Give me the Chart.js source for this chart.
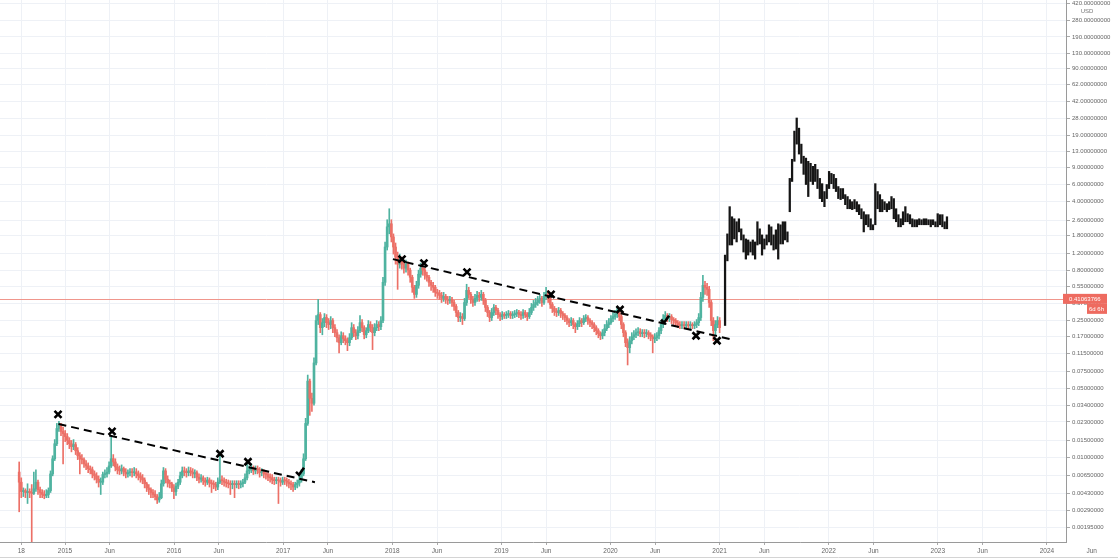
<!DOCTYPE html>
<html>
<head>
<meta charset="utf-8">
<script src="https://cdn.jsdelivr.net/npm/chart.js@4.4.0/dist/chart.umd.min.js"></script>
<style>
  html, body { margin: 0; padding: 0; background: #fff; }
  #wrap { width: 1118px; height: 559px; }
</style>
</head>
<body>
<div id="wrap"><canvas id="chart"></canvas></div>
<script>
'use strict';

// weekly candles, x axis is in decimal years
var firstWeek = 2014.58;
var weekStep = 7 / 365.25;
var firstOpen = 0.0071;

var closes = [
  0.0056, 0.0045, 0.0046, 0.0044, 0.0045, 0.0044, 0.0043, 0.0048, 0.0056, 0.0047,
  0.0044, 0.0042, 0.0041, 0.0042, 0.0046, 0.0068, 0.0097, 0.0138, 0.0197, 0.0212,
  0.0184, 0.0175, 0.0163, 0.0149, 0.0138, 0.0129, 0.0135, 0.0117, 0.0104, 0.0097,
  0.0095, 0.0086, 0.0082, 0.0077, 0.0075, 0.0068, 0.0065, 0.0060, 0.0056, 0.0056,
  0.0067, 0.0068, 0.0071, 0.0082, 0.0097, 0.0090, 0.0080, 0.0075, 0.0073, 0.0077,
  0.0071, 0.0068, 0.0070, 0.0071, 0.0070, 0.0071, 0.0068, 0.0065, 0.0062, 0.0059,
  0.0054, 0.0049, 0.0047, 0.0044, 0.0042, 0.0040, 0.0037, 0.0039, 0.0054, 0.0073,
  0.0060, 0.0055, 0.0054, 0.0049, 0.0045, 0.0051, 0.0056, 0.0065, 0.0073, 0.0071,
  0.0070, 0.0073, 0.0071, 0.0068, 0.0070, 0.0063, 0.0060, 0.0062, 0.0058, 0.0056,
  0.0059, 0.0055, 0.0054, 0.0053, 0.0050, 0.0056, 0.0059, 0.0058, 0.0056, 0.0055,
  0.0054, 0.0053, 0.0054, 0.0053, 0.0054, 0.0053, 0.0054, 0.0056, 0.0062, 0.0073,
  0.0075, 0.0079, 0.0073, 0.0077, 0.0075, 0.0070, 0.0071, 0.0068, 0.0067, 0.0063,
  0.0062, 0.0059, 0.0058, 0.0059, 0.0058, 0.0056, 0.0059, 0.0058, 0.0056, 0.0054,
  0.0053, 0.0050, 0.0053, 0.0055, 0.0059, 0.0068, 0.0097, 0.0222, 0.0598, 0.0400,
  0.0356, 0.0915, 0.247, 0.284, 0.209, 0.235, 0.265, 0.235, 0.225, 0.247,
  0.209, 0.186, 0.165, 0.147, 0.173, 0.161, 0.154, 0.147, 0.165, 0.209,
  0.186, 0.173, 0.195, 0.235, 0.209, 0.177, 0.195, 0.225, 0.209, 0.186,
  0.209, 0.225, 0.214, 0.247, 0.605, 1.383, 2.219, 2.382, 1.752, 1.383,
  1.092, 0.926, 1.017, 0.926, 0.843, 0.926, 0.804, 0.681, 0.538, 0.456,
  0.564, 0.731, 0.843, 0.804, 0.714, 0.681, 0.605, 0.564, 0.538, 0.478,
  0.467, 0.445, 0.415, 0.435, 0.405, 0.396, 0.405, 0.377, 0.344, 0.298,
  0.265, 0.271, 0.259, 0.377, 0.501, 0.456, 0.405, 0.377, 0.415, 0.445,
  0.425, 0.456, 0.396, 0.336, 0.298, 0.265, 0.298, 0.336, 0.313, 0.284,
  0.271, 0.284, 0.278, 0.284, 0.291, 0.278, 0.284, 0.291, 0.298, 0.284,
  0.278, 0.298, 0.284, 0.271, 0.298, 0.336, 0.360, 0.377, 0.396, 0.415,
  0.377, 0.435, 0.478, 0.415, 0.360, 0.328, 0.305, 0.298, 0.313, 0.291,
  0.278, 0.265, 0.247, 0.235, 0.247, 0.225, 0.214, 0.230, 0.247, 0.235,
  0.259, 0.265, 0.247, 0.235, 0.225, 0.209, 0.195, 0.182, 0.173, 0.186,
  0.204, 0.225, 0.235, 0.259, 0.271, 0.284, 0.313, 0.271, 0.225, 0.186,
  0.147, 0.131, 0.154, 0.169, 0.177, 0.186, 0.190, 0.182, 0.186, 0.182,
  0.186, 0.177, 0.169, 0.161, 0.165, 0.173, 0.195, 0.225, 0.259, 0.278,
  0.265, 0.271, 0.253, 0.247, 0.235, 0.225, 0.219, 0.225, 0.219, 0.225,
  0.219, 0.225, 0.219, 0.225, 0.235, 0.265, 0.425, 0.564, 0.538, 0.513,
  0.377, 0.247, 0.195, 0.225, 0.247, 0.209
];

var highs = [
  0.0090, 0.0062, 0.0049, 0.0048, 0.0054, 0.0048, 0.0053, 0.0071, 0.0075, 0.0059,
  0.0050, 0.0047, 0.0046, 0.0047, 0.0049, 0.0073, 0.0104, 0.0152, 0.0222, 0.0233,
  0.0222, 0.0202, 0.0188, 0.0175, 0.0159, 0.0149, 0.0152, 0.0142, 0.0126, 0.0112,
  0.0107, 0.0099, 0.0093, 0.0088, 0.0082, 0.0080, 0.0073, 0.0070, 0.0065, 0.0062,
  0.0071, 0.0075, 0.0079, 0.0090, 0.0163, 0.0107, 0.0097, 0.0086, 0.0082, 0.0084,
  0.0080, 0.0077, 0.0075, 0.0077, 0.0077, 0.0079, 0.0077, 0.0073, 0.0070, 0.0067,
  0.0062, 0.0056, 0.0053, 0.0049, 0.0047, 0.0046, 0.0042, 0.0044, 0.0059, 0.0079,
  0.0077, 0.0065, 0.0059, 0.0056, 0.0053, 0.0055, 0.0060, 0.0071, 0.0080, 0.0080,
  0.0077, 0.0080, 0.0079, 0.0077, 0.0075, 0.0073, 0.0068, 0.0067, 0.0065, 0.0062,
  0.0063, 0.0062, 0.0059, 0.0058, 0.0056, 0.0062, 0.0109, 0.0065, 0.0062, 0.0060,
  0.0059, 0.0058, 0.0058, 0.0058, 0.0058, 0.0058, 0.0058, 0.0060, 0.0068, 0.0088,
  0.0082, 0.0086, 0.0082, 0.0082, 0.0082, 0.0079, 0.0077, 0.0075, 0.0073, 0.0070,
  0.0068, 0.0067, 0.0063, 0.0063, 0.0063, 0.0062, 0.0063, 0.0063, 0.0062, 0.0060,
  0.0058, 0.0056, 0.0056, 0.0059, 0.0065, 0.0075, 0.0109, 0.0250, 0.0689, 0.0627,
  0.0451, 0.103, 0.278, 0.405, 0.298, 0.259, 0.291, 0.284, 0.259, 0.271,
  0.259, 0.225, 0.200, 0.177, 0.190, 0.186, 0.173, 0.165, 0.182, 0.235,
  0.225, 0.200, 0.214, 0.278, 0.253, 0.219, 0.209, 0.247, 0.241, 0.225,
  0.230, 0.247, 0.241, 0.271, 0.681, 1.557, 2.62, 3.39, 2.62, 1.881,
  1.520, 1.229, 1.172, 1.092, 1.017, 1.017, 0.971, 0.843, 0.714, 0.564,
  0.620, 0.804, 0.948, 0.904, 0.843, 0.767, 0.714, 0.635, 0.605, 0.564,
  0.513, 0.501, 0.478, 0.478, 0.456, 0.435, 0.435, 0.425, 0.396, 0.360,
  0.313, 0.298, 0.291, 0.415, 0.578, 0.538, 0.478, 0.435, 0.456, 0.490,
  0.478, 0.501, 0.478, 0.415, 0.352, 0.313, 0.328, 0.360, 0.352, 0.328,
  0.298, 0.305, 0.298, 0.305, 0.313, 0.305, 0.305, 0.313, 0.320, 0.313,
  0.305, 0.320, 0.313, 0.298, 0.328, 0.369, 0.396, 0.415, 0.435, 0.456,
  0.435, 0.478, 0.538, 0.501, 0.435, 0.377, 0.344, 0.328, 0.336, 0.328,
  0.305, 0.291, 0.278, 0.259, 0.265, 0.259, 0.235, 0.247, 0.265, 0.259,
  0.278, 0.284, 0.278, 0.259, 0.247, 0.235, 0.219, 0.204, 0.190, 0.200,
  0.225, 0.247, 0.259, 0.278, 0.298, 0.313, 0.344, 0.328, 0.284, 0.235,
  0.195, 0.161, 0.169, 0.186, 0.195, 0.204, 0.209, 0.204, 0.200, 0.200,
  0.200, 0.195, 0.186, 0.177, 0.182, 0.186, 0.209, 0.247, 0.284, 0.305,
  0.291, 0.291, 0.284, 0.265, 0.259, 0.247, 0.241, 0.241, 0.241, 0.241,
  0.241, 0.241, 0.235, 0.241, 0.253, 0.291, 0.478, 0.714, 0.620, 0.591,
  0.551, 0.396, 0.265, 0.247, 0.271, 0.265
];

var lows = [
  0.0028, 0.0039, 0.0040, 0.0039, 0.0034, 0.0039, 0.0012, 0.0042, 0.0045, 0.0042,
  0.0039, 0.0039, 0.0038, 0.0039, 0.0039, 0.0044, 0.0065, 0.0093, 0.0132, 0.0184,
  0.0167, 0.0086, 0.0145, 0.0135, 0.0123, 0.0114, 0.0120, 0.0107, 0.0095, 0.0068,
  0.0086, 0.0079, 0.0075, 0.0070, 0.0068, 0.0062, 0.0059, 0.0055, 0.0050, 0.0042,
  0.0053, 0.0062, 0.0063, 0.0068, 0.0079, 0.0082, 0.0073, 0.0068, 0.0067, 0.0068,
  0.0065, 0.0062, 0.0063, 0.0065, 0.0063, 0.0065, 0.0062, 0.0059, 0.0056, 0.0054,
  0.0049, 0.0045, 0.0042, 0.0039, 0.0039, 0.0037, 0.0034, 0.0035, 0.0038, 0.0051,
  0.0055, 0.0050, 0.0049, 0.0045, 0.0038, 0.0041, 0.0048, 0.0053, 0.0062, 0.0065,
  0.0063, 0.0065, 0.0065, 0.0062, 0.0062, 0.0058, 0.0055, 0.0056, 0.0053, 0.0051,
  0.0053, 0.0050, 0.0044, 0.0048, 0.0046, 0.0047, 0.0054, 0.0053, 0.0051, 0.0050,
  0.0049, 0.0042, 0.0048, 0.0039, 0.0049, 0.0048, 0.0049, 0.0050, 0.0054, 0.0059,
  0.0068, 0.0070, 0.0067, 0.0068, 0.0068, 0.0063, 0.0065, 0.0062, 0.0060, 0.0058,
  0.0056, 0.0054, 0.0053, 0.0054, 0.0034, 0.0051, 0.0053, 0.0053, 0.0051, 0.0049,
  0.0047, 0.0045, 0.0047, 0.0049, 0.0051, 0.0056, 0.0065, 0.0093, 0.0212, 0.0268,
  0.0294, 0.0340, 0.0873, 0.225, 0.186, 0.177, 0.214, 0.209, 0.200, 0.204,
  0.186, 0.169, 0.150, 0.116, 0.140, 0.147, 0.140, 0.122, 0.137, 0.158,
  0.169, 0.158, 0.161, 0.186, 0.190, 0.161, 0.165, 0.186, 0.190, 0.125,
  0.173, 0.195, 0.195, 0.200, 0.235, 0.564, 1.289, 1.881, 1.557, 1.172,
  0.926, 0.513, 0.843, 0.823, 0.749, 0.767, 0.714, 0.605, 0.478, 0.415,
  0.425, 0.526, 0.681, 0.714, 0.650, 0.620, 0.551, 0.501, 0.478, 0.435,
  0.415, 0.405, 0.377, 0.387, 0.369, 0.360, 0.369, 0.344, 0.313, 0.271,
  0.241, 0.241, 0.225, 0.247, 0.352, 0.415, 0.369, 0.344, 0.352, 0.387,
  0.387, 0.396, 0.360, 0.305, 0.271, 0.241, 0.247, 0.278, 0.284, 0.259,
  0.247, 0.253, 0.259, 0.259, 0.265, 0.259, 0.259, 0.265, 0.271, 0.265,
  0.253, 0.259, 0.265, 0.247, 0.259, 0.284, 0.313, 0.336, 0.352, 0.369,
  0.344, 0.360, 0.405, 0.377, 0.328, 0.298, 0.278, 0.271, 0.278, 0.265,
  0.253, 0.241, 0.225, 0.214, 0.219, 0.204, 0.186, 0.200, 0.214, 0.214,
  0.225, 0.241, 0.225, 0.214, 0.204, 0.190, 0.177, 0.165, 0.158, 0.161,
  0.173, 0.195, 0.209, 0.225, 0.241, 0.253, 0.265, 0.247, 0.204, 0.169,
  0.134, 0.0873, 0.116, 0.143, 0.158, 0.165, 0.173, 0.169, 0.169, 0.165,
  0.169, 0.161, 0.154, 0.116, 0.147, 0.154, 0.161, 0.182, 0.209, 0.241,
  0.241, 0.241, 0.230, 0.225, 0.219, 0.209, 0.204, 0.204, 0.204, 0.204,
  0.204, 0.204, 0.204, 0.204, 0.209, 0.219, 0.247, 0.387, 0.456, 0.445,
  0.336, 0.219, 0.154, 0.177, 0.209, 0.186
];

// black projected bars (high/low), early 2021 -> early 2023
var projStart = 2021.05;
var projEnd = 2023.084;
var projHighs = [
  1.145, 1.881, 3.56, 2.81, 2.68, 2.50, 2.68, 2.117, 1.837, 1.672,
  1.632, 1.557, 1.632, 1.557, 2.50, 2.117, 1.837, 1.672, 1.837, 2.326,
  2.219, 1.837, 2.067, 2.382, 2.326, 2.50, 2.50, 1.972, 6.9, 10.8,
  20.9, 28.4, 22.4, 15.4, 11.6, 11.1, 10.3, 9.83, 9.15, 9.6,
  8.5, 6.9, 6.1, 5.07, 5.98, 8.13, 7.76, 7.58, 6.9, 5.7,
  5.44, 5.44, 4.72, 4.51, 4.2, 4.0, 4.2, 4.0, 3.73, 3.39,
  3.16, 2.95, 2.95, 2.68, 2.33, 6.1, 5.07, 4.72, 4.2, 4.0,
  3.82, 4.0, 4.51, 4.3, 3.39, 2.95, 2.68, 3.16, 3.56, 3.02,
  2.95, 2.68, 2.62, 2.62, 2.68, 2.62, 2.68, 2.68, 2.62, 2.62,
  2.62, 2.50, 3.02, 2.95, 2.95, 2.50, 2.81
];
var projLows = [
  0.22, 1.0, 1.450, 1.450, 1.672, 1.557, 1.972, 1.632, 1.229, 1.042,
  1.145, 1.229, 1.145, 1.042, 1.450, 1.485, 1.145, 1.319, 1.450, 1.557,
  1.450, 1.289, 1.319, 1.042, 1.485, 1.485, 1.632, 1.557, 3.16, 6.42,
  10.3, 15.4, 12.2, 9.83, 7.58, 5.98, 4.51, 6.42, 5.98, 6.42,
  5.44, 4.3, 4.0, 3.56, 4.3, 5.44, 6.1, 5.44, 5.07, 4.3,
  4.2, 4.3, 3.73, 3.39, 3.39, 3.32, 3.39, 3.16, 2.95, 2.68,
  1.97, 2.33, 2.22, 2.07, 2.07, 2.33, 3.39, 3.16, 3.16, 3.32,
  3.16, 3.32, 3.39, 2.68, 2.50, 2.22, 2.22, 2.33, 2.50, 2.50,
  2.38, 2.22, 2.22, 2.22, 2.33, 2.33, 2.33, 2.33, 2.33, 2.22,
  2.33, 2.22, 2.22, 2.33, 2.22, 2.12, 2.12
];

// trend lines drawn on the chart
var trendA = { x: [2014.940, 2017.291], y: [0.0219, 0.0056] };
var trendB = { x: [2018.006, 2021.114], y: [1.042, 0.158] };

// X / tick marks
var markX = [2014.936, 2015.431, 2016.421, 2016.677, 2017.154, 2018.089, 2018.290, 2018.685, 2019.455, 2020.087, 2020.500, 2020.784, 2020.976];
var markY = [0.0274, 0.0184, 0.0109, 0.00904, 0.00714, 1.04, 0.948, 0.767, 0.456, 0.320, 0.252, 0.173, 0.154];
var markKind = ['x', 'x', 'x', 'x', 'v', 'x', 'x', 'x', 'x', 'x', 'v', 'x', 'x'];

var xTickValues = [2014.6, 2015, 2015.41, 2016, 2016.41, 2017, 2017.41, 2018, 2018.41, 2019, 2019.41,
  2020, 2020.41, 2021, 2021.41, 2022, 2022.41, 2023, 2023.41, 2024, 2024.41];
var xTickLabels = ['18', '2015', 'Jun', '2016', 'Jun', '2017', 'Jun', '2018', 'Jun', '2019', 'Jun',
  '2020', 'Jun', '2021', 'Jun', '2022', 'Jun', '2023', 'Jun', '2024', 'Jun'];
var yTickValues = [420, 280, 190, 130, 90, 62, 42, 28, 19, 13, 9, 6, 4, 2.6, 1.8, 1.2, 0.8, 0.55, 0.37,
  0.25, 0.17, 0.115, 0.075, 0.05, 0.034, 0.023, 0.015, 0.01, 0.0065, 0.0043, 0.0029, 0.00195];

var lastPrice = 0.41063766;
var countdown = '6d 6h';
var currency = 'USD';

var upColor = '#4fb3a0';
var downColor = '#ec7067';
var gridColor = '#eef1f6';
var fontFamily = '"Liberation Sans", Arial, sans-serif';

function weekX(i) {
  return firstWeek + i * weekStep;
}

var opens = closes.map(function(c, i) {
  return i === 0 ? firstOpen : closes[i - 1];
});
var candleColors = closes.map(function(c, i) {
  return c >= opens[i] ? upColor : downColor;
});
var projStep = (projEnd - projStart) / (projHighs.length - 1);

var wickData = closes.map(function(c, i) {
  return { x: weekX(i), y: [lows[i], highs[i]] };
});
var bodyData = closes.map(function(c, i) {
  return { x: weekX(i), y: [opens[i], c] };
});
var projData = projHighs.map(function(h, i) {
  return { x: projStart + i * projStep, y: [projLows[i], h] };
});

function lineData(t) {
  return t.x.map(function(x, i) { return { x: x, y: t.y[i] }; });
}

// no label padding: the top label is allowed to be cut by the canvas edge
function noPadding(scale) {
  scale.paddingTop = 0;
  scale.paddingBottom = 0;
  scale.paddingLeft = 0;
  scale.paddingRight = 0;
}

// extra drawing: last price line, marks, price label, stray axis text
var overlayPlugin = {
  id: 'overlay',
  beforeDatasetsDraw: function(chart) {
    var ctx = chart.ctx, area = chart.chartArea;
    var py = Math.round(chart.scales.y.getPixelForValue(lastPrice)) + 0.5;
    ctx.save();
    ctx.strokeStyle = '#f0968c';
    ctx.lineWidth = 1;
    ctx.beginPath();
    ctx.moveTo(area.left, py);
    ctx.lineTo(area.right, py);
    ctx.stroke();
    ctx.restore();
  },
  afterDatasetsDraw: function(chart) {
    var ctx = chart.ctx, xs = chart.scales.x, ys = chart.scales.y;
    ctx.save();
    ctx.strokeStyle = '#000';
    ctx.lineWidth = 2.6;
    markX.forEach(function(v, i) {
      var px = xs.getPixelForValue(v);
      var py = ys.getPixelForValue(markY[i]);
      ctx.beginPath();
      if (markKind[i] === 'x') {
        ctx.moveTo(px - 3.5, py - 3.5);
        ctx.lineTo(px + 3.5, py + 3.5);
        ctx.moveTo(px + 3.5, py - 3.5);
        ctx.lineTo(px - 3.5, py + 3.5);
      } else {
        ctx.moveTo(px - 4, py);
        ctx.lineTo(px - 1, py + 3);
        ctx.lineTo(px + 4, py - 4);
      }
      ctx.stroke();
    });
    ctx.restore();
  },
  afterDraw: function(chart) {
    var ctx = chart.ctx, xs = chart.scales.x, ys = chart.scales.y, area = chart.chartArea;
    ctx.save();
    // last price tag
    var py = ys.getPixelForValue(lastPrice);
    ctx.fillStyle = '#ee6b60';
    ctx.fillRect(area.right - 3, py - 5, 44, 10);
    ctx.fillRect(area.right + 21, py + 5, 20, 10);
    ctx.fillStyle = '#fff';
    ctx.font = '6px ' + fontFamily;
    ctx.textBaseline = 'middle';
    ctx.textAlign = 'left';
    ctx.fillText(lastPrice.toFixed(8), area.right + 3, py);
    ctx.textAlign = 'right';
    ctx.fillText(countdown, area.right + 38, py + 10);
    // currency under top tick
    ctx.fillStyle = '#777';
    ctx.textAlign = 'center';
    ctx.fillText(currency, area.right + 21, 11);
    // x labels that fall under the price axis
    ctx.font = '6.5px ' + fontFamily;
    ctx.fillStyle = '#666';
    xTickValues.forEach(function(v, i) {
      if (v > xs.max) {
        ctx.fillText(xTickLabels[i], xs.getPixelForValue(v), area.bottom + 9);
      }
    });
    // bottom border
    ctx.strokeStyle = '#d4d4d4';
    ctx.lineWidth = 1;
    ctx.beginPath();
    ctx.moveTo(0, 557.5);
    ctx.lineTo(chart.width, 557.5);
    ctx.stroke();
    ctx.restore();
  }
};

var ctx = document.getElementById('chart');
var priceChart = new Chart(ctx, {
  type: 'bar',
  data: {
    datasets: [
      {
        label: 'proj',
        data: projData,
        backgroundColor: '#151515',
        barThickness: 1.6,
        grouped: false,
        order: 3
      },
      {
        label: 'wick',
        data: wickData,
        backgroundColor: candleColors,
        barThickness: 1,
        grouped: false,
        order: 2
      },
      {
        label: 'body',
        data: bodyData,
        backgroundColor: candleColors,
        barThickness: 2,
        minBarLength: 1,
        grouped: false,
        order: 1
      },
      {
        type: 'line',
        label: 'trendA',
        data: lineData(trendA),
        borderColor: '#000',
        borderWidth: 2,
        borderDash: [8, 5],
        pointRadius: 0,
        order: 0
      },
      {
        type: 'line',
        label: 'trendB',
        data: lineData(trendB),
        borderColor: '#000',
        borderWidth: 2,
        borderDash: [8, 5],
        pointRadius: 0,
        order: 0
      }
    ]
  },
  options: {
    responsive: true,
    maintainAspectRatio: false,
    animation: false,
    layout: { padding: 0 },
    plugins: {
      legend: { display: false },
      tooltip: { enabled: false }
    },
    scales: {
      x: {
        type: 'linear',
        min: 2014.4042,
        max: 2024.1751,
        offset: false,
        afterBuildTicks: function(scale) {
          scale.ticks = xTickValues.filter(function(v) {
            return v >= scale.min && v <= scale.max;
          }).map(function(v) { return { value: v }; });
        },
        afterFit: function(scale) {
          scale.height = 17;
          noPadding(scale);
        },
        grid: {
          color: gridColor,
          offset: false,
          tickLength: 3,
          tickColor: '#aaa'
        },
        border: { color: '#9a9a9a' },
        ticks: {
          autoSkip: false,
          maxRotation: 0,
          padding: 2,
          color: '#666',
          font: { family: fontFamily, size: 6.5 },
          callback: function(v) {
            var i = xTickValues.indexOf(v);
            return i >= 0 ? xTickLabels[i] : '';
          }
        }
      },
      y: {
        type: 'logarithmic',
        position: 'right',
        min: 0.00138,
        max: 450.6,
        afterBuildTicks: function(scale) {
          scale.ticks = yTickValues.map(function(v) { return { value: v }; });
        },
        afterFit: function(scale) {
          scale.width = 52;
          noPadding(scale);
        },
        grid: {
          color: gridColor,
          tickLength: 4,
          tickColor: '#aaa'
        },
        border: { color: '#9a9a9a' },
        ticks: {
          autoSkip: false,
          padding: 2,
          color: '#666',
          font: { family: fontFamily, size: 6 },
          callback: function(v) { return Number(v).toFixed(8); }
        }
      }
    }
  },
  plugins: [overlayPlugin]
});
</script>
</body>
</html>
